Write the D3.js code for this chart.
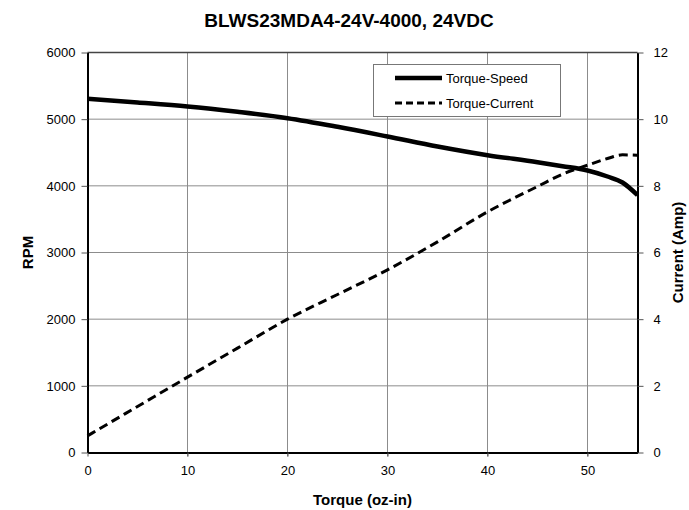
<!DOCTYPE html>
<html>
<head>
<meta charset="utf-8">
<script src="https://cdn.jsdelivr.net/npm/d3@7"></script>
<style>
body { margin: 0; background: #fff; }
text { font-family: "Liberation Sans", Arial, sans-serif; }
</style>
</head>
<body>
<svg id="chart" width="689" height="510"></svg>
<script>
/*	Chart data ---------------------------------------------------------------*/
var torque      = [0, 5, 10, 15, 20, 25, 30, 35, 40, 45, 47.5, 50, 52, 53.5, 55];
var speedRpm    = [5305, 5250, 5190, 5110, 5015, 4885, 4740, 4590, 4460, 4355, 4295, 4230, 4140, 4050, 3860];
var torqueCur   = [0, 5, 10, 15, 20, 25, 30, 35, 40, 45, 47.5, 50, 52, 53.5, 55];
var currentAmp  = [0.5, 1.38, 2.26, 3.13, 4.0, 4.74, 5.48, 6.32, 7.22, 7.98, 8.35, 8.62, 8.82, 8.93, 8.92];
var xTicks      = [0, 10, 20, 30, 40, 50];
var rpmTicks    = [0, 1000, 2000, 3000, 4000, 5000, 6000];
var ampTicks    = [0, 2, 4, 6, 8, 10, 12];
var seriesNames = ["Torque-Speed", "Torque-Current"];

var svg = d3.select("#chart");
var padding = {left: 87.5, right: 51.5, top: 52.5, bottom: 57.5};
var width = 689, height = 510;

var xScale = d3.scaleLinear().domain([0, 55]).range([padding.left, width - padding.right]);
var yScale = d3.scaleLinear().domain([0, 6000]).range([height - padding.bottom, padding.top]);
var y2Scale = d3.scaleLinear().domain([0, 12]).range([height - padding.bottom, padding.top]);

/*	Title ---------------------------------------------------------------------*/
svg.append("text")
	.attr("x", 349)
	.attr("y", 27)
	.attr("text-anchor", "middle")
	.attr("font-size", "19px")
	.attr("font-weight", "bold")
	.text("BLWS23MDA4-24V-4000, 24VDC");

/*	Grid lines ----------------------------------------------------------------*/
var grid = svg.append("g").attr("class", "grid");
grid.selectAll(".vgrid").data(xTicks.slice(1))
	.enter().append("line")
	.attr("x1", function(d){ return xScale(d); })
	.attr("x2", function(d){ return xScale(d); })
	.attr("y1", yScale(0) + 4).attr("y2", yScale(6000))
	.style("stroke", "#8c8c8c").style("stroke-width", "1");
grid.selectAll(".hgrid").data(rpmTicks.slice(1))
	.enter().append("line")
	.attr("x1", xScale(0)).attr("x2", xScale(55))
	.attr("y1", function(d){ return yScale(d); })
	.attr("y2", function(d){ return yScale(d); })
	.style("stroke", "#8c8c8c").style("stroke-width", "1");
/* top border of plot area, darker */
svg.append("line")
	.attr("x1", xScale(0)).attr("x2", xScale(55))
	.attr("y1", yScale(6000)).attr("y2", yScale(6000))
	.style("stroke", "#444").style("stroke-width", "1.5");

/*	Axes ----------------------------------------------------------------------*/
var xAxis = d3.axisBottom(xScale).tickValues(xTicks).tickSize(4).tickPadding(9).tickSizeOuter(0);
var yAxis = d3.axisLeft(yScale).tickValues(rpmTicks).tickFormat(d3.format("d"))
	.tickSize(6).tickPadding(6).tickSizeOuter(0);
var y2Axis = d3.axisRight(y2Scale).tickValues(ampTicks).tickSize(6).tickPadding(10).tickSizeOuter(0);

var gx = svg.append("g").attr("transform", "translate(0," + yScale(0) + ")").call(xAxis);
var gy = svg.append("g").attr("transform", "translate(" + xScale(0) + ",0)").call(yAxis);
var gy2 = svg.append("g").attr("transform", "translate(" + xScale(55) + ",0)").call(y2Axis);
[gx, gy, gy2].forEach(function(g){
	g.select(".domain").style("stroke", "#000").style("stroke-width", "2");
	g.selectAll("g.tick line").style("stroke", "#555").style("stroke-width", "1");
	g.selectAll("g.tick text")
		.style("font", "13px 'Liberation Sans', Arial, sans-serif")
		.style("fill", "#000");
});

/*	Axis labels ---------------------------------------------------------------*/
svg.append("text")
	.attr("x", (padding.left + width - padding.right) / 2)
	.attr("y", 505)
	.attr("text-anchor", "middle")
	.attr("font-size", "15px").attr("font-weight", "bold")
	.text("Torque (oz-in)");
svg.append("text")
	.attr("transform", "translate(33," + ((padding.top + height - padding.bottom) / 2) + ")rotate(-90)")
	.attr("text-anchor", "middle")
	.attr("font-size", "15px").attr("font-weight", "bold")
	.text("RPM");
svg.append("text")
	.attr("transform", "translate(683," + ((padding.top + height - padding.bottom) / 2) + ")rotate(-90)")
	.attr("text-anchor", "middle")
	.attr("font-size", "15px").attr("font-weight", "bold")
	.text("Current (Amp)");

/*	Series lines --------------------------------------------------------------*/
var speedLine = d3.line()
	.x(function(d, i){ return xScale(torque[i]); })
	.y(function(d){ return yScale(d); })
	.curve(d3.curveMonotoneX);
var currentLine = d3.line()
	.x(function(d, i){ return xScale(torqueCur[i]); })
	.y(function(d){ return y2Scale(d); })
	.curve(d3.curveMonotoneX);

svg.append("path")
	.datum(currentAmp)
	.attr("d", currentLine)
	.style("fill", "none").style("stroke", "#000")
	.style("stroke-width", "3").style("stroke-dasharray", "9,5");
svg.append("path")
	.datum(speedRpm)
	.attr("d", speedLine)
	.style("fill", "none").style("stroke", "#000")
	.style("stroke-width", "4.5");

/*	Legend --------------------------------------------------------------------*/
var legend = svg.append("g");
legend.append("rect")
	.attr("x", 373.5).attr("y", 64.5).attr("width", 187).attr("height", 52)
	.style("fill", "#fff").style("stroke", "#777").style("stroke-width", "1");
legend.selectAll(".legline").data(seriesNames)
	.enter().append("line")
	.attr("x1", 395).attr("x2", 442)
	.attr("y1", function(d, i){ return 78 + i * 25; })
	.attr("y2", function(d, i){ return 78 + i * 25; })
	.style("stroke", "#000")
	.style("stroke-width", function(d, i){ return i === 0 ? "4.5" : "3"; })
	.style("stroke-dasharray", function(d, i){ return i === 0 ? null : "7,4"; });
legend.selectAll(".legtext").data(seriesNames)
	.enter().append("text")
	.attr("x", 446)
	.attr("y", function(d, i){ return 83 + i * 25; })
	.attr("font-size", "13px")
	.text(function(d){ return d; });
</script>
</body>
</html>
